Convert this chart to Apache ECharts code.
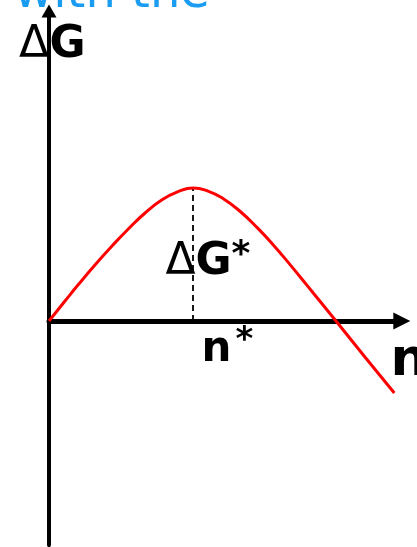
<!DOCTYPE html>
<html>
<head>
<meta charset="utf-8">
<script src="https://cdn.jsdelivr.net/npm/echarts@6/dist/echarts.min.js"></script>
<style>
  html, body { margin: 0; padding: 0; background: #fff; }
  #chart { width: 417px; height: 547px; }
</style>
</head>
<body>
<div id="chart"></div>
<script>
// Nucleation free energy vs cluster size, normalised so that n* = 1 and ΔG* = 1
const clusterSize = [0, 0.111, 0.201, 0.319, 0.4375, 0.549, 0.667, 0.785, 0.896, 1.0,
                     1.104, 1.208, 1.326, 1.444, 1.556, 1.674, 1.792, 1.903, 1.993, 2.194, 2.398];
const freeEnergy  = [0, 0.150, 0.270, 0.421, 0.564, 0.690, 0.812, 0.911, 0.972, 1.0,
                     0.977, 0.921, 0.825, 0.704, 0.574, 0.424, 0.268, 0.120, 0, -0.271, -0.541];
// critical nucleus: (n*, ΔG*)
const criticalSize = 1;
const barrierHeight = 1;

const curve = clusterSize.map((n, i) => [n, freeEnergy[i]]);
const barrierMarker = [[criticalSize, 0], [criticalSize, barrierHeight]];

const FONT = '"DejaVu Sans", Verdana, sans-serif';

const chart = echarts.init(document.getElementById('chart'), null, { renderer: 'canvas' });

function label(text, x, y, size, weight, color) {
  return {
    type: 'text', x: x, y: y, z: 50,
    style: {
      text: text, fill: color || '#000',
      font: (weight || 'bold') + ' ' + size + 'px ' + FONT,
      align: 'center', verticalAlign: 'middle'
    }
  };
}

chart.setOption({
  animation: false,
  backgroundColor: '#fff',
  grid: { left: 49, right: 15.2, top: 11.1, bottom: 1.9, containLabel: false },
  xAxis: {
    type: 'value', min: 0, max: 2.45,
    axisLine: {
      onZero: true,
      symbol: ['none', 'triangle'], symbolSize: [17, 17],
      lineStyle: { color: '#000', width: 5 }
    },
    axisTick: { show: false }, axisLabel: { show: false }, splitLine: { show: false }
  },
  yAxis: {
    type: 'value', min: -1.685, max: 2.33,
    axisLine: {
      onZero: false,
      symbol: ['none', 'triangle'], symbolSize: [15, 13],
      lineStyle: { color: '#000', width: 4 }
    },
    axisTick: { show: false }, axisLabel: { show: false }, splitLine: { show: false }
  },
  series: [
    {
      type: 'line', data: barrierMarker, symbol: 'none', clip: false, z: 3,
      lineStyle: { color: '#000', width: 1.8, type: [6, 4] }
    },
    {
      type: 'line', data: curve, smooth: 0.5,
      symbol: 'none', clip: false, z: 4,
      lineStyle: { color: '#ff0000', width: 3 }
    }
  ],
  graphic: [
    {
      type: 'text', x: 14, y: 19, z: 50,
      style: {
        text: 'with the', fill: '#1a9cf2',
        font: 'normal 48px ' + FONT,
        align: 'left', verticalAlign: 'bottom'
      }
    },
    label('Δ', 34, 46, 44, 'normal'),
    label('G', 67.5, 46, 44),
    label('Δ', 180.5, 263, 44, 'normal'),
    label('G', 213.5, 263, 44),
    label('*', 241, 256, 36),
    label('n', 216.5, 350, 42),
    label('*', 244.5, 341, 34),
    label('n', 409, 361.6, 52)
  ]
});
</script>
</body>
</html>
